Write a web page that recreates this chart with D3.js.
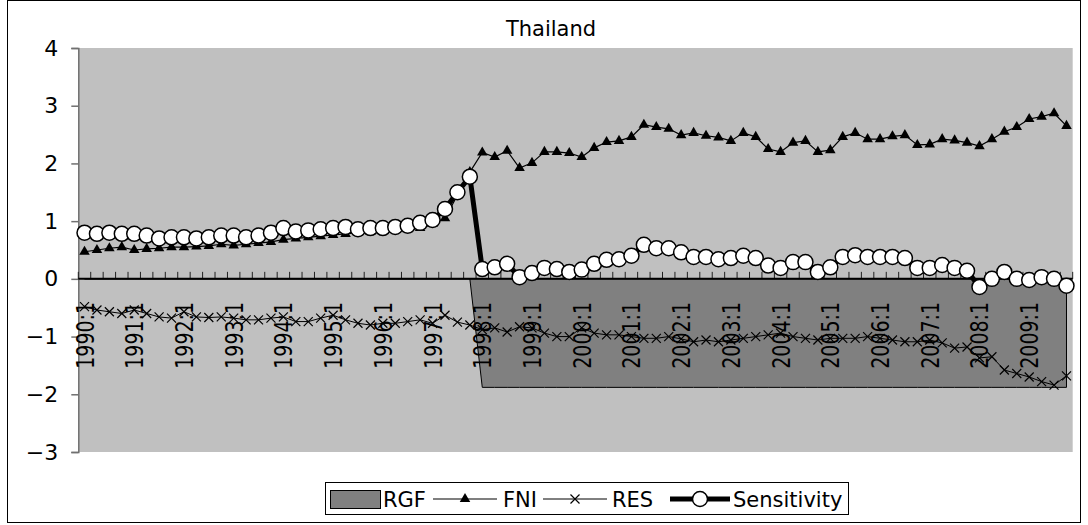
<!DOCTYPE html>
<html><head><meta charset="utf-8">
<script src="https://cdn.jsdelivr.net/npm/d3@7"></script>
<style>body{margin:0;background:#fff}svg{display:block}</style>
</head><body><svg id="c" width="1088" height="525"></svg>
<script>
const years = [1990,1991,1992,1993,1994,1995,1996,1997,1998,1999,2000,2001,2002,2003,2004,2005,2006,2007,2008,2009];
const categories = years.flatMap(y => [1,2,3,4].map(q => y + ":" + q));
const rgf = [0,0,0,0, 0,0,0,0, 0,0,0,0, 0,0,0,0, 0,0,0,0, 0,0,0,0, 0,0,0,0, 0,0,0,0,
  -1.88,-1.88,-1.88,-1.88, -1.88,-1.88,-1.88,-1.88, -1.88,-1.88,-1.88,-1.88, -1.88,-1.88,-1.88,-1.88,
  -1.88,-1.88,-1.88,-1.88, -1.88,-1.88,-1.88,-1.88, -1.88,-1.88,-1.88,-1.88, -1.88,-1.88,-1.88,-1.88,
  -1.88,-1.88,-1.88,-1.88, -1.88,-1.88,-1.88,-1.88, -1.88,-1.88,-1.88,-1.88, -1.88,-1.88,-1.88,-1.88];
const fni = [0.47,0.50,0.53,0.55, 0.50,0.52,0.53,0.55, 0.55,0.56,0.57,0.60, 0.58,0.60,0.62,0.64,
  0.68,0.70,0.72,0.74, 0.76,0.78,0.80,0.82, 0.84,0.85,0.86,0.88, 0.95,1.05,1.45,1.85,
  2.19,2.11,2.22,1.92, 2.01,2.20,2.20,2.18, 2.11,2.27,2.37,2.39, 2.46,2.67,2.63,2.60,
  2.49,2.53,2.48,2.45, 2.39,2.53,2.46,2.25, 2.20,2.36,2.39,2.20, 2.23,2.46,2.53,2.42,
  2.42,2.47,2.49,2.32, 2.33,2.42,2.40,2.36, 2.30,2.42,2.55,2.63, 2.77,2.81,2.87,2.65];
const res = [-0.48,-0.54,-0.57,-0.60, -0.54,-0.60,-0.66,-0.68, -0.57,-0.66,-0.67,-0.66, -0.68,-0.71,-0.71,-0.68,
  -0.66,-0.74,-0.74,-0.68, -0.63,-0.71,-0.77,-0.80, -0.77,-0.77,-0.74,-0.71, -0.77,-0.63,-0.75,-0.80,
  -0.88,-0.85,-0.92,-0.83, -0.85,-0.94,-1.00,-1.00, -0.85,-0.94,-0.97,-0.97, -1.00,-1.03,-1.03,-1.00,
  -1.04,-1.09,-1.06,-1.09, -1.06,-1.03,-1.00,-0.97, -0.94,-1.00,-1.03,-1.06, -1.03,-1.03,-1.03,-1.00,
  -1.03,-1.06,-1.09,-1.09, -1.06,-1.11,-1.20,-1.18, -1.37,-1.35,-1.58,-1.64, -1.70,-1.78,-1.84,-1.68];
const sensitivity = [0.80,0.78,0.80,0.78, 0.78,0.75,0.70,0.72, 0.72,0.70,0.72,0.75, 0.75,0.72,0.75,0.80,
  0.88,0.82,0.84,0.86, 0.88,0.90,0.86,0.88, 0.88,0.90,0.92,0.97, 1.02,1.21,1.50,1.77,
  0.17,0.20,0.26,0.03, 0.10,0.19,0.17,0.12, 0.16,0.26,0.33,0.34, 0.40,0.59,0.53,0.53,
  0.46,0.38,0.38,0.34, 0.36,0.40,0.36,0.23, 0.19,0.29,0.29,0.12, 0.20,0.38,0.41,0.38,
  0.38,0.38,0.36,0.19, 0.19,0.24,0.19,0.14, -0.14,0.00,0.12,0.00, -0.02,0.03,0.00,-0.12];
const yTicks = [-3,-2,-1,0,1,2,3,4];
const title = "Thailand";
const seriesNames = ["RGF","FNI","RES","Sensitivity"];

const svg = d3.select("#c");
const L = 78.3, R = 1072.7, T = 48, B = 452;
const x = d3.scaleBand().domain(categories).range([L, R]);
const xc = c => x(c) + x.bandwidth() / 2;
const y = d3.scaleLinear().domain([-3, 4]).range([B, T]);
const FONT = "'DejaVu Sans', sans-serif";

// chart border
svg.append("rect").attr("x", 7.5).attr("y", 0.5).attr("width", 1073).attr("height", 522)
  .attr("fill", "#fff").attr("stroke", "#000").attr("stroke-width", 1);

// plot area
svg.append("rect").attr("x", L).attr("y", T).attr("width", R - L).attr("height", B - T).attr("fill", "#c0c0c0");

// title
svg.append("text").attr("x", 551).attr("y", 36).attr("text-anchor", "middle")
  .attr("font-family", FONT).attr("font-size", 21).text(title);

// RGF area
const area = d3.area().x((d, i) => xc(categories[i])).y0(y(0)).y1(d => y(d));
svg.append("path").datum(rgf).attr("d", area).attr("fill", "#808080").attr("stroke", "#000").attr("stroke-width", 1);

// y axis
const yAxis = svg.append("g").attr("transform", `translate(${L},0)`)
  .call(d3.axisLeft(y).tickValues(yTicks).tickSize(7).tickPadding(13)
    .tickFormat(d => d < 0 ? "\u2212" + Math.abs(d) : d));
yAxis.select(".domain").attr("stroke", "#707070").attr("stroke-width", 1.5);
yAxis.selectAll(".tick line").attr("stroke", "#707070").attr("stroke-width", 1.5);
yAxis.selectAll(".tick text").attr("font-family", FONT).attr("font-size", 22).attr("fill", "#000");

// x axis at zero
const y0 = y(0);
const xAxis = svg.append("g").attr("transform", `translate(0,${y0})`)
  .call(d3.axisBottom(x).tickValues(categories.filter((d, i) => i % 4 === 0)).tickSize(0).tickPadding(0));
xAxis.select(".domain").remove();
xAxis.selectAll(".tick text")
  .attr("font-family", FONT).attr("font-size", 25).attr("fill", "#000")
  .attr("text-anchor", "end").attr("transform", "rotate(-90)")
  .attr("x", -23).attr("y", 0).attr("dy", "0.36em")
  .attr("textLength", 67).attr("lengthAdjust", "spacingAndGlyphs");
// tick marks at category boundaries (inside, upward)
svg.append("g").selectAll("line").data(categories.concat([null])).join("line")
  .attr("x1", d => d === null ? R : x(d)).attr("x2", d => d === null ? R : x(d))
  .attr("y1", y0 - 7).attr("y2", y0).attr("stroke", "#202020").attr("stroke-width", 1);
svg.append("line").attr("x1", L).attr("x2", R).attr("y1", y0).attr("y2", y0)
  .attr("stroke", "#000").attr("stroke-width", 2);

// FNI
const line = d3.line().x((d, i) => xc(categories[i])).y(d => y(d));
svg.append("path").datum(fni).attr("d", line).attr("fill", "none").attr("stroke", "#000").attr("stroke-width", 1.2);
const tri = d3.symbol().type(d3.symbolTriangle).size(48)();
svg.append("g").selectAll("path").data(fni).join("path")
  .attr("d", tri).attr("transform", (d, i) => `translate(${xc(categories[i])},${y(d)})`).attr("fill", "#000");

// RES
svg.append("path").datum(res).attr("d", line).attr("fill", "none").attr("stroke", "#000").attr("stroke-width", 1);
const xMark = "M-4.5,-4.5L4.5,4.5M-4.5,4.5L4.5,-4.5";
svg.append("g").selectAll("path").data(res).join("path")
  .attr("d", xMark).attr("transform", (d, i) => `translate(${xc(categories[i])},${y(d)})`)
  .attr("fill", "none").attr("stroke", "#000").attr("stroke-width", 1.2);

// Sensitivity
svg.append("path").datum(sensitivity).attr("d", line).attr("fill", "none").attr("stroke", "#000").attr("stroke-width", 5);
svg.append("g").selectAll("circle").data(sensitivity).join("circle")
  .attr("cx", (d, i) => xc(categories[i])).attr("cy", d => y(d)).attr("r", 7.5)
  .attr("fill", "#fff").attr("stroke", "#000").attr("stroke-width", 1.5);

// legend
const lg = svg.append("g");
lg.append("rect").attr("x", 325.5).attr("y", 482.5).attr("width", 523).attr("height", 32)
  .attr("fill", "#fff").attr("stroke", "#000");
const ly = 499;
lg.append("rect").attr("x", 330.5).attr("y", 490.5).attr("width", 50).attr("height", 18)
  .attr("fill", "#808080").attr("stroke", "#000");
const ltext = (tx, s) => lg.append("text").attr("x", tx).attr("y", ly).attr("dy", "0.36em")
  .attr("font-family", FONT).attr("font-size", 21).text(s);
ltext(383, seriesNames[0]);
lg.append("line").attr("x1", 433).attr("x2", 497).attr("y1", ly).attr("y2", ly).attr("stroke", "#000").attr("stroke-width", 1.2);
lg.append("path").attr("d", tri).attr("transform", `translate(465,${ly})`).attr("fill", "#000");
ltext(503, seriesNames[1]);
lg.append("line").attr("x1", 543).attr("x2", 607).attr("y1", ly).attr("y2", ly).attr("stroke", "#000").attr("stroke-width", 1);
lg.append("path").attr("d", xMark).attr("transform", `translate(575,${ly})`).attr("fill", "none").attr("stroke", "#000").attr("stroke-width", 1.2);
ltext(612, seriesNames[2]);
lg.append("line").attr("x1", 670).attr("x2", 730).attr("y1", ly).attr("y2", ly).attr("stroke", "#000").attr("stroke-width", 5);
lg.append("circle").attr("cx", 700).attr("cy", ly).attr("r", 7.5).attr("fill", "#fff").attr("stroke", "#000").attr("stroke-width", 1.5);
ltext(733, seriesNames[3]);
</script>
</body></html>
